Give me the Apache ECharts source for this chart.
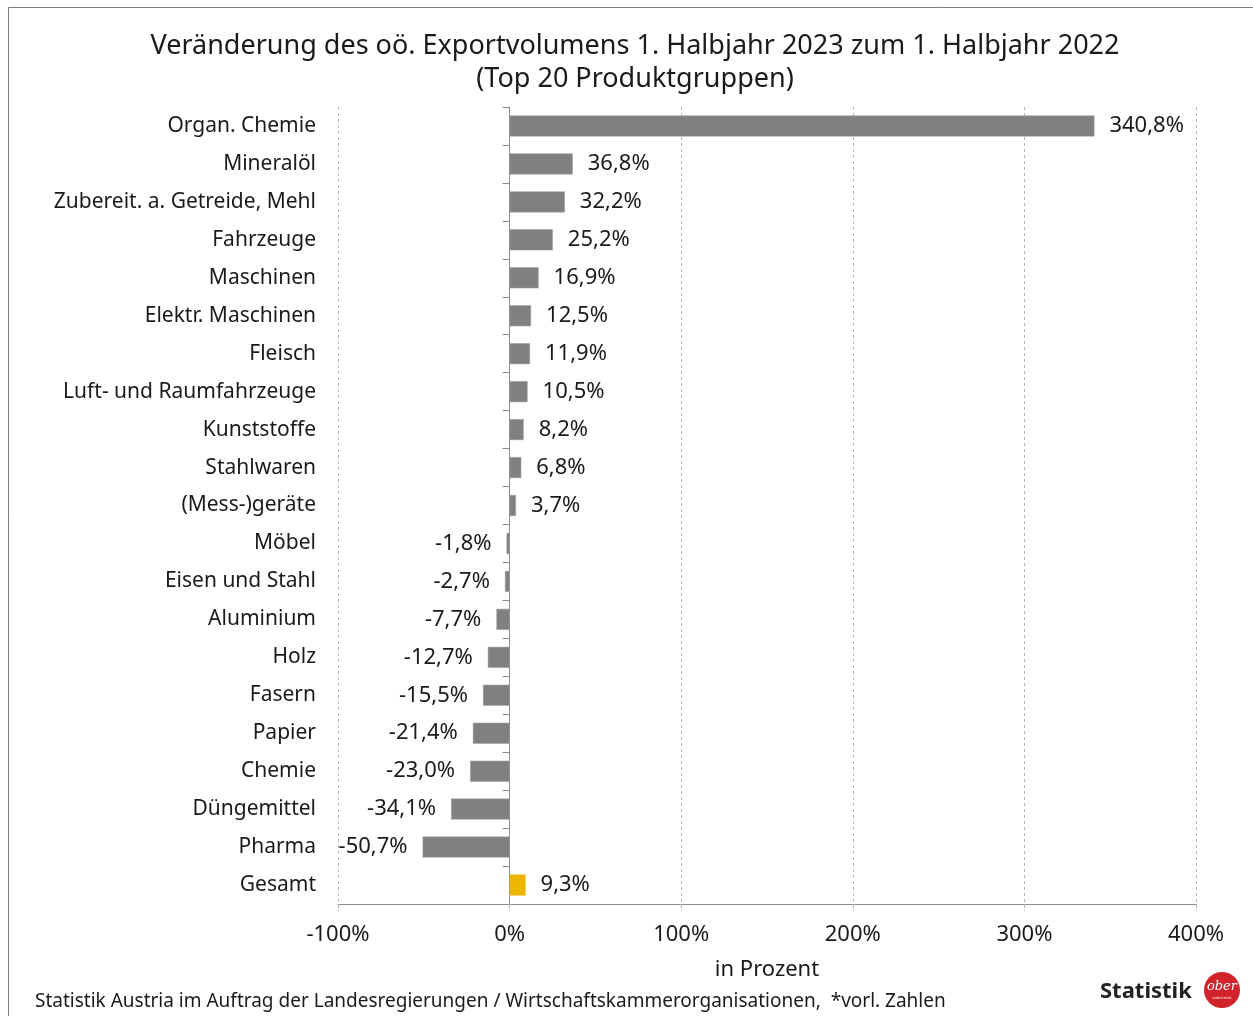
<!DOCTYPE html>
<html>
<head>
<meta charset="utf-8">
<script src="https://cdn.jsdelivr.net/npm/echarts@6/dist/echarts.min.js"></script>
<style>
  html, body { margin: 0; padding: 0; background: #fff; }
  #main { width: 1253px; height: 1016px; }
</style>
</head>
<body>
<div id="main"></div>
<script>
// Daten
const categories = ['Organ. Chemie', 'Mineralöl', 'Zubereit. a. Getreide, Mehl', 'Fahrzeuge', 'Maschinen',
	'Elektr. Maschinen', 'Fleisch', 'Luft- und Raumfahrzeuge', 'Kunststoffe', 'Stahlwaren', '(Mess-)geräte',
	'Möbel', 'Eisen und Stahl', 'Aluminium', 'Holz', 'Fasern', 'Papier', 'Chemie', 'Düngemittel', 'Pharma', 'Gesamt'];
const changes = [340.8, 36.8, 32.2, 25.2, 16.9, 12.5, 11.9, 10.5, 8.2, 6.8, 3.7,
	-1.8, -2.7, -7.7, -12.7, -15.5, -21.4, -23.0, -34.1, -50.7, 9.3];
const xTicks = [-100, 0, 100, 200, 300, 400];

const FONT = '"Noto Sans", sans-serif';
const GREY = '#808080';
const GOLD = '#EEB500';

function fmt(v) {
	return v.toFixed(1).replace('.', ',') + '%';
}

const chart = echarts.init(document.getElementById('main'));

chart.setOption({
	animation: false,
	backgroundColor: '#fff',
	textStyle: { fontFamily: FONT },
	title: {
		text: 'Veränderung des oö. Exportvolumens 1. Halbjahr 2023 zum 1. Halbjahr 2022\n(Top 20 Produktgruppen)',
		left: 630, top: 25, textAlign: 'center',
		textStyle: { fontFamily: FONT, fontSize: 27, fontWeight: 'normal', color: '#1a1a1a', lineHeight: 33 }
	},
	grid: { left: 338, right: 57, top: 107, bottom: 112, containLabel: false },
	xAxis: {
		type: 'value',
		min: xTicks[0], max: xTicks[xTicks.length - 1], interval: 100,
		name: 'in Prozent', nameLocation: 'middle', nameGap: 55,
		nameTextStyle: { fontSize: 22, color: '#1a1a1a', fontFamily: FONT },
		axisLine: { show: true, lineStyle: { color: '#8c8c8c', width: 1 } },
		axisTick: { show: true, length: 7, lineStyle: { color: '#b0b0b0', type: 'dashed' } },
		axisLabel: { fontSize: 22, color: '#1a1a1a', margin: 20, formatter: v => v + '%' },
		splitLine: { show: true, lineStyle: { color: '#b8b8b8', type: [3, 3] } }
	},
	yAxis: [{
		// Achsenlinie bei 0 mit Teilstrichen
		type: 'category', data: categories, inverse: true, position: 'left',
		axisLine: { show: true, onZero: true, onZeroAxisIndex: 0, lineStyle: { color: '#8c8c8c' } },
		axisTick: { show: true, length: 7, lineStyle: { color: '#8c8c8c' } },
		axisLabel: { show: false }
	}, {
		// Kategorienbeschriftung am linken Rand
		type: 'category', data: categories, inverse: true, position: 'left',
		axisLine: { show: false, onZero: false }, axisTick: { show: false },
		axisLabel: { fontSize: 21, color: '#1a1a1a', margin: 22, padding: [4, 0, 0, 0] }
	}],
	series: [{
		type: 'bar', barWidth: 21, yAxisIndex: 0,
		data: changes.map((v, i) => ({
			value: v,
			itemStyle: { color: categories[i] === 'Gesamt' ? GOLD : GREY, borderColor: categories[i] === 'Gesamt' ? GOLD : '#a0a0a0', borderWidth: 0.5 },
			label: { show: true, position: v >= 0 ? 'right' : 'left', distance: 15 }
		})),
		label: { fontSize: 22, color: '#1a1a1a', fontFamily: FONT, padding: [4, 0, 0, 0], formatter: p => fmt(p.value) }
	}],
	graphic: [
		{ type: 'rect', shape: { x: 8.5, y: 7.5, width: 1300, height: 1100 }, style: { fill: 'none', stroke: '#7a7a7a', lineWidth: 1 }, silent: true },
		{ type: 'text', left: 35, top: 992, style: { text: 'Statistik Austria im Auftrag der Landesregierungen / Wirtschaftskammerorganisationen,  *vorl. Zahlen', font: '19px ' + FONT, fill: '#1a1a1a' } },
		{ type: 'text', left: 1100, top: 981, style: { text: 'Statistik', font: 'bold 22px ' + FONT, fill: '#222' } },
		{ type: 'circle', shape: { cx: 1222, cy: 990, r: 18 }, style: { fill: '#D2232A' } },
		{ type: 'text', x: 1222, y: 987, style: { text: 'ober', font: 'italic 13px "DejaVu Serif", serif', fill: '#fff', align: 'center', verticalAlign: 'middle' } },
		{ type: 'text', x: 1222, y: 998, style: { text: 'österreich', font: '4px ' + FONT, fill: '#fff', align: 'center', verticalAlign: 'middle' } }
	]
});
</script>
</body>
</html>
